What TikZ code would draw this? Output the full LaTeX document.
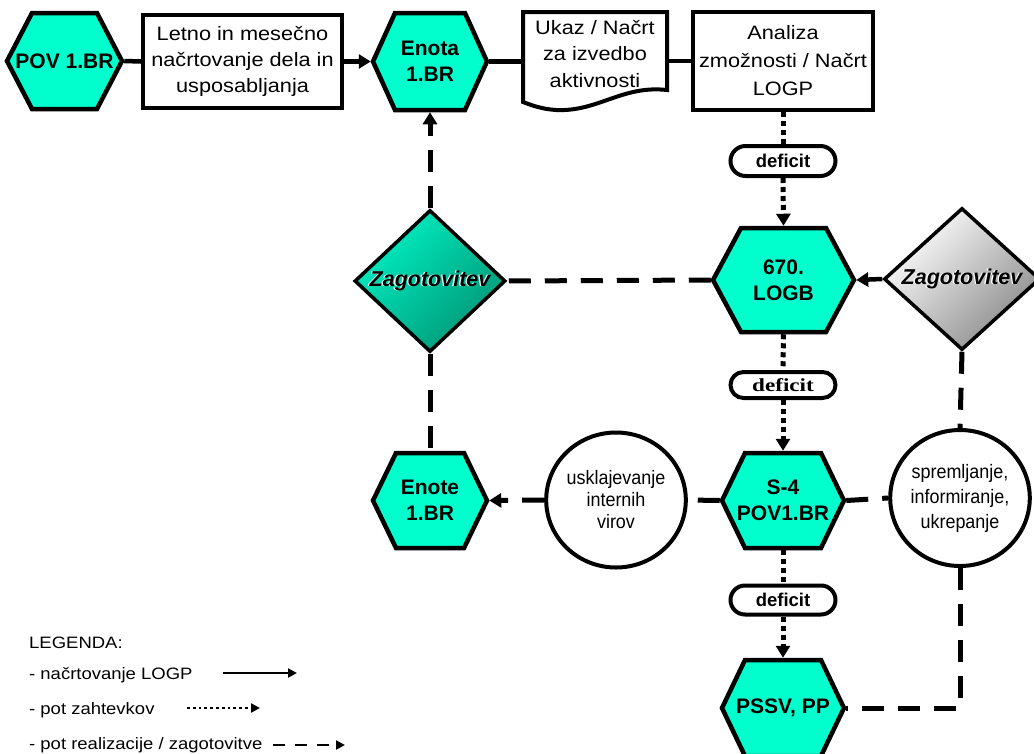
\documentclass[tikz,border=0pt]{standalone}
\usepackage{fontspec}
\setmainfont{Liberation Sans}
\newfontfamily\widesans{Liberation Sans}[FakeStretch=1.12]
\newfontfamily\narrowsans{Liberation Sans}[FakeStretch=0.92]
\newfontfamily\wideserif{Liberation Serif}[FakeStretch=1.25]
\usetikzlibrary{shapes.geometric,arrows.meta}

% flat-topped hexagon with pointed left and right ends
\makeatletter
\pgfkeys{/pgf/hex cut/.initial=23pt}
\pgfdeclareshape{hexa}{%
  \inheritsavedanchors[from=rectangle]%
  \inheritanchorborder[from=rectangle]%
  \inheritanchor[from=rectangle]{center}%
  \inheritanchor[from=rectangle]{mid}%
  \inheritanchor[from=rectangle]{base}%
  \inheritanchor[from=rectangle]{north}%
  \inheritanchor[from=rectangle]{south}%
  \inheritanchor[from=rectangle]{east}%
  \inheritanchor[from=rectangle]{west}%
  \backgroundpath{%
    \pgfmathsetlength\pgfutil@tempdima{\pgfkeysvalueof{/pgf/hex cut}}%
    \pgfmathsetlength\pgfutil@tempdimb{\pgfkeysvalueof{/pgf/outer xsep}}%
    \southwest \pgf@xa=\pgf@x \pgf@ya=\pgf@y
    \northeast \pgf@xb=\pgf@x \pgf@yb=\pgf@y
    \advance\pgf@xa by \pgfutil@tempdimb
    \advance\pgf@xb by -\pgfutil@tempdimb
    \pgfmathsetlength\pgfutil@tempdimb{\pgfkeysvalueof{/pgf/outer ysep}}%
    \advance\pgf@ya by \pgfutil@tempdimb
    \advance\pgf@yb by -\pgfutil@tempdimb
    \pgf@yc=.5\pgf@ya \advance\pgf@yc by .5\pgf@yb
    \pgf@xc=\pgf@xa \advance\pgf@xc by \pgfutil@tempdima
    \pgfutil@tempdimb=\pgf@xb \advance\pgfutil@tempdimb by -\pgfutil@tempdima
    \pgfpathmoveto{\pgfqpoint{\pgf@xa}{\pgf@yc}}%
    \pgfpathlineto{\pgfqpoint{\pgf@xc}{\pgf@yb}}%
    \pgfpathlineto{\pgfqpoint{\pgfutil@tempdimb}{\pgf@yb}}%
    \pgfpathlineto{\pgfqpoint{\pgf@xb}{\pgf@yc}}%
    \pgfpathlineto{\pgfqpoint{\pgfutil@tempdimb}{\pgf@ya}}%
    \pgfpathlineto{\pgfqpoint{\pgf@xc}{\pgf@ya}}%
    \pgfpathclose
  }%
}
\makeatother

\definecolor{hexfill}{HTML}{00FFCC}
\definecolor{zagA}{HTML}{00F0C2}
\definecolor{zagB}{HTML}{009676}
\definecolor{greyB}{HTML}{8A8A8A}

% bold italic label with a light ghost behind it
\newcommand\ghosted[1]{\makebox[0pt][l]{\kern-1.3pt\textcolor{white}{#1}}#1}

\begin{document}
\begin{tikzpicture}[x=1pt,y=-1pt,
  hexnode/.style={shape=hexa, draw, line width=4.5pt, fill=hexfill, inner sep=0pt,
    align=center, font=\bfseries\fontsize{21}{26}\selectfont},
  textbox/.style={draw, line width=4pt, fill=white, inner sep=0pt, align=center},
  pill/.style={draw, line width=4pt, fill=white, inner sep=0pt, minimum width=105pt},
  zag/.style={diamond, draw, line width=3.5pt, inner sep=0pt, aspect=1,
    font=\bfseries\itshape\fontsize{21.5}{24}\selectfont},
  oval/.style={ellipse, draw, line width=4pt, fill=white, inner sep=0pt, align=center},
  tip/.style={-{Triangle[length=12pt,width=14pt]}},
  plainline/.style={line width=4.5pt},
  dotline/.style={line width=5pt, dash pattern=on 5pt off 4pt},
  dashline/.style={line width=5pt, dash pattern=on 22pt off 14pt},
  legtext/.style={anchor=west, inner sep=0pt, font=\widesans\fontsize{16.5}{19}\selectfont}]

\useasboundingbox (0,0) rectangle (1034,753);

% top row: planning chain
\node[hexnode, minimum width=115pt, minimum height=96pt, hex cut=25pt] (pov) at (64.5,61) {POV 1.BR};
\node[textbox, minimum width=199pt, minimum height=93pt,
  font=\widesans\fontsize{19.4}{26}\selectfont] (plan) at (242.5,61.5)
  {Letno in mesečno\\načrtovanje dela in\\usposabljanja};
\node[hexnode, minimum width=114pt, minimum height=97pt, hex cut=22pt] (enota) at (430,61.5) {Enota\\1.BR};

% document outline with wavy lower edge
\draw[line width=4pt, fill=white, line join=miter]
  (523,12) -- (667,12) -- (667,90)
  .. controls (622,85) and (598,112) .. (556,110)
  .. controls (541,109) and (531,105) .. (523,102) -- cycle;
\node[inner sep=0pt, minimum width=144pt, minimum height=80pt, align=center,
  font=\widesans\fontsize{19.4}{26.5}\selectfont] (doc) at (595,54)
  {Ukaz / Načrt\\za izvedbo\\aktivnosti};

\node[textbox, minimum width=180pt, minimum height=98pt,
  font=\widesans\fontsize{19.4}{28}\selectfont] (analiza) at (783,61)
  {Analiza\\zmožnosti / Načrt\\LOGP};

% requests column
\node[pill, minimum height=30pt, rounded corners=15pt,
  font=\bfseries\fontsize{18.5}{20}\selectfont] (def1) at (783,161) {deficit};
\node[hexnode, minimum width=141pt, minimum height=104pt, hex cut=28pt] (logb) at (783.5,280) {670.\\LOGB};
\node[pill, minimum height=26pt, rounded corners=13pt,
  font=\wideserif\bfseries\fontsize{18.5}{20}\selectfont] (def2) at (783,385) {deficit};
\node[hexnode, minimum width=122pt, minimum height=95pt, hex cut=23pt] (s4) at (783,500.5) {S-4\\POV1.BR};
\node[pill, minimum height=29pt, rounded corners=14.5pt,
  font=\bfseries\fontsize{18.5}{20}\selectfont] (def3) at (783,600) {deficit};
\node[hexnode, minimum width=122pt, minimum height=96pt, hex cut=23pt] (pssv) at (783,708) {PSSV, PP};

% provision decisions
\node[zag, minimum width=151pt, minimum height=142pt,
  top color=zagA, bottom color=zagB, shading angle=45] (zagL) at (430,281) {\ghosted{Zagotovitev}};
\node[zag, minimum width=156pt, minimum height=142pt,
  top color=white, bottom color=greyB, shading angle=45] (zagR) at (962,279) {\ghosted{Zagotovitev}};

% lower row
\node[hexnode, minimum width=114pt, minimum height=95pt, hex cut=23pt] (enote) at (430,500.5) {Enote\\1.BR};
\node[oval, minimum width=128pt, minimum height=135pt,
  font=\narrowsans\fontsize{19.5}{22}\selectfont] (ellL) at (616,500) {usklajevanje\\internih\\virov};
\node[oval, minimum width=120pt, minimum height=136pt,
  font=\narrowsans\fontsize{19.5}{25}\selectfont] (ellR) at (960,498) {spremljanje,\\informiranje,\\ukrepanje};

% planning connectors
\draw[plainline] (pov.east) -- (plan.west);
\draw[plainline, tip] (plan.east) -- (enota.west);
\draw[plainline] (enota.east) -- (enota.east -| doc.west);
\draw[plainline] (doc.east |- analiza.west) -- (analiza.west);
\draw[plainline, tip] (zagR.west) -- (logb.east);

% request connectors
\draw[dotline] (analiza.south) -- (def1.north);
\draw[dotline, tip] (def1.south) -- (logb.north);
\draw[dotline] (logb.south) -- (def2.north);
\draw[dotline, tip] (def2.south) -- (s4.north);
\draw[dotline] (s4.south) -- (def3.north);
\draw[dotline, tip] (def3.south) -- (pssv.north);

% provision connectors
\draw[dashline] (logb.west) -- (zagL.east);
\draw[dashline, tip] (zagL.north) -- (enota.south);
\draw[dashline] (zagL.south) -- (enote.north);
\draw[dashline] (s4.west) -- (ellL.east);
\draw[dashline, tip] (ellL.west) -- (enote.east);
\draw[dashline] (s4.east) -- (ellR.west);
\draw[dashline] (zagR.south) -- (ellR.north);
\draw[dashline] (ellR.south) -- (ellR.south |- pssv.east) -- (pssv.east);

% legend
\node[legtext] (legtitle) at (29,643) {LEGENDA:};
\node[legtext] (leg1) at (29,675) {- načrtovanje LOGP};
\node[legtext] (leg2) at (29,710) {- pot zahtevkov};
\node[legtext] (leg3) at (29,745) {- pot realizacije / zagotovitve};
\coordinate (l1a) at (223,673);
\coordinate (l1b) at (297,673);
\coordinate (l2a) at (187,708);
\coordinate (l2b) at (260,708);
\coordinate (l3a) at (273,745);
\coordinate (l3b) at (345,745);
\draw[line width=2.8pt, -{Triangle[length=9pt,width=9pt]}] (l1a) -- (l1b);
\draw[line width=2.8pt, dash pattern=on 2.8pt off 3pt, -{Triangle[length=9pt,width=9pt]}] (l2a) -- (l2b);
\draw[line width=2.8pt, dash pattern=on 12pt off 10pt, -{Triangle[length=9pt,width=9pt]}] (l3a) -- (l3b);
\end{tikzpicture}
\end{document}
